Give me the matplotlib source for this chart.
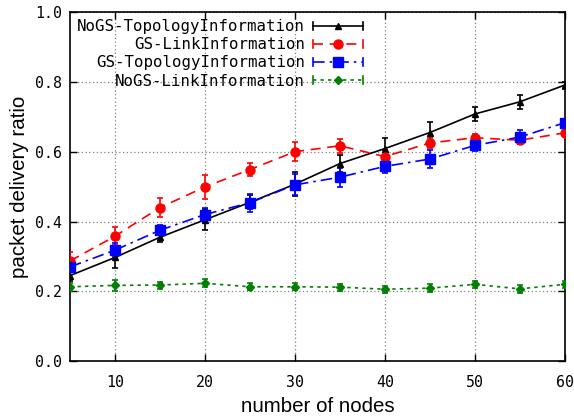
import matplotlib
matplotlib.use('Agg')
import matplotlib.pyplot as plt
from matplotlib.lines import Line2D
from matplotlib.legend_handler import HandlerLine2D

# number of nodes
nodes = [5, 10, 15, 20, 25, 30, 35, 40, 45, 50, 55, 60]

nogs_topo = [0.245, 0.297, 0.355, 0.405, 0.455, 0.507, 0.566, 0.609, 0.655, 0.708, 0.743, 0.791]
nogs_topo_err = [0.015, 0.03, 0.015, 0.03, 0.02, 0.035, 0.025, 0.03, 0.03, 0.02, 0.02, 0.01]

gs_link = [0.287, 0.358, 0.44, 0.499, 0.549, 0.6, 0.617, 0.586, 0.625, 0.64, 0.633, 0.654]
gs_link_err = [0.025, 0.025, 0.028, 0.035, 0.02, 0.027, 0.02, 0.02, 0.015, 0.01, 0.01, 0.01]

gs_topo = [0.27, 0.318, 0.375, 0.42, 0.454, 0.505, 0.527, 0.558, 0.579, 0.618, 0.642, 0.683]
gs_topo_err = [0.015, 0.02, 0.015, 0.02, 0.026, 0.03, 0.027, 0.02, 0.025, 0.015, 0.02, 0.01]

nogs_link = [0.213, 0.217, 0.218, 0.223, 0.213, 0.213, 0.212, 0.206, 0.209, 0.22, 0.207, 0.22]
nogs_link_err = [0.012, 0.015, 0.01, 0.012, 0.01, 0.01, 0.01, 0.01, 0.012, 0.01, 0.012, 0.01]

labels = ['NoGS-TopologyInformation', 'GS-LinkInformation',
          'GS-TopologyInformation', 'NoGS-LinkInformation']

mono = 'DejaVu Sans Mono'
sans = 'Liberation Sans'


class CapHandler(HandlerLine2D):
    # gnuplot-style key: |---o---|
    def create_artists(self, legend, orig_handle, xdescent, ydescent,
                       width, height, fontsize, trans):
        arts = super().create_artists(legend, orig_handle, xdescent, ydescent,
                                      width, height, fontsize, trans)
        y = height / 2 - ydescent
        h = height * 0.35
        for x in (-xdescent, width - xdescent):
            cap = Line2D([x, x], [y - h, y + h], color=orig_handle.get_color(),
                         lw=orig_handle.get_linewidth(), transform=trans)
            arts.append(cap)
        return arts


fig, ax = plt.subplots(figsize=(5.74, 4.17), dpi=100)
fig.subplots_adjust(left=0.122, right=0.984, top=0.971, bottom=0.134)

styles = [
    (nogs_topo, nogs_topo_err, 'black', '-', '^', 5),
    (gs_link, gs_link_err, 'red', (0, (6, 4)), 'o', 6.5),
    (gs_topo, gs_topo_err, 'blue', (0, (7, 3, 1.5, 3)), 's', 6.5),
    (nogs_link, nogs_link_err, 'green', (0, (2, 2.5)), 'D', 4),
]

handles = []
for (vals, err, col, ls, mk, ms), lab in zip(styles, labels):
    ax.errorbar(nodes, vals, yerr=err, color=col, ecolor=col, linestyle=ls,
                marker=mk, markersize=ms, linewidth=1.2, elinewidth=1.2,
                capsize=2.5, capthick=1.2, zorder=3)
    handles.append(Line2D([], [], color=col, linestyle=ls, marker=mk,
                          markersize=ms, linewidth=1.2))

ax.set_xlim(5, 60)
ax.set_ylim(0, 1.0)
ax.set_xticks([10, 20, 30, 40, 50, 60])
ax.set_yticks([0.0, 0.2, 0.4, 0.6, 0.8, 1.0])
ax.set_yticklabels(['%.1f' % v for v in [0.0, 0.2, 0.4, 0.6, 0.8, 1.0]])
ax.tick_params(direction='in', length=5, width=1, top=True, right=True,
               labelsize=10.7)
ax.tick_params(axis='x', pad=10)
ax.tick_params(axis='y', pad=6)
for lab in ax.get_xticklabels() + ax.get_yticklabels():
    lab.set_fontfamily(mono)

ax.grid(True, linestyle=(0, (1, 2)), color='gray', linewidth=0.9)
for sp in ax.spines.values():
    sp.set_linewidth(1.2)

ax.set_xlabel('number of nodes', fontsize=14.8, fontfamily=sans, labelpad=5)
ax.set_ylabel('packet delivery ratio', fontsize=14.8, fontfamily=sans, labelpad=4)

leg = ax.legend(handles, labels, loc='upper left', frameon=False,
                markerfirst=False, handlelength=3.2, handletextpad=0.5,
                labelspacing=0.2, borderaxespad=0.25, borderpad=0.2,
                prop={'family': mono, 'size': 11.3},
                handler_map={Line2D: CapHandler()})

fig.savefig('out.png', dpi=100)
